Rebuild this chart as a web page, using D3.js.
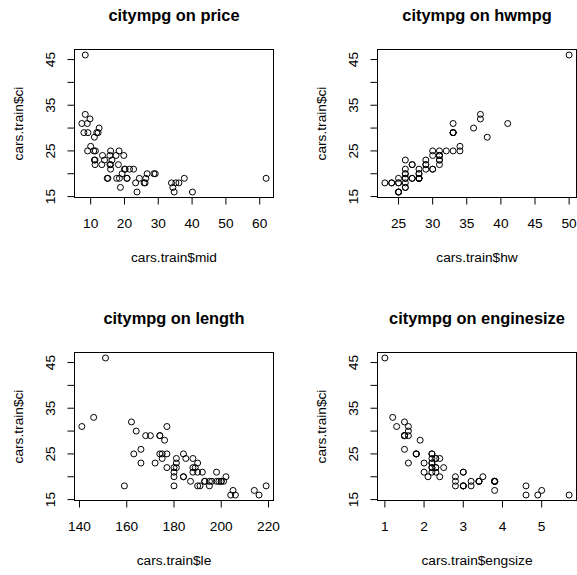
<!DOCTYPE html>
<html>
<head>
<meta charset="utf-8">
<script src="https://cdn.jsdelivr.net/npm/d3@7"></script>
<style>
  body { margin: 0; background: #fff; }
  text { font-family: "Liberation Sans", Arial, sans-serif; fill: #000; }
</style>
</head>
<body>
<div id="container"></div>
<script>
/* DATA (one entry per car in cars.train) */
const mid = [15.9, 33.9, 29.1, 37.7, 15.7, 20.8, 23.7, 26.3, 34.7, 40.1, 11.4, 15.1, 15.9, 18.8, 9.2, 11.3, 13.3, 25.8, 12.2, 19.3,
  7.4, 11.3, 15.9, 20.2, 8.4, 12.5, 19.8, 17.5, 8.0, 10.0, 35.2, 34.3, 36.1, 61.9, 14.1, 14.9, 26.1, 11.8, 15.7, 21.5,
  13.5, 16.3, 20.7, 9.0, 11.1, 17.7, 18.5, 24.4, 28.7, 11.1, 8.4, 10.9, 9.8, 18.4, 18.2, 9.1, 20.0, 23.3, 22.7, 26.7];
const ci = [25, 18, 20, 19, 22, 19, 16, 19, 16, 16, 25, 19, 21, 17, 29, 23, 22, 18, 29, 20,
  31, 22, 22, 21, 46, 30, 24, 24, 29, 26, 18, 17, 18, 19, 23, 19, 18, 29, 24, 21,
  24, 23, 19, 31, 23, 19, 19, 19, 20, 28, 33, 25, 32, 25, 22, 25, 21, 18, 21, 20];
const hw = [31, 25, 26, 26, 31, 28, 25, 27, 25, 25, 34, 28, 29, 26, 33, 29, 27, 24, 33, 28,
  33, 27, 29, 30, 50, 36, 31, 31, 33, 34, 23, 26, 26, 25, 26, 26, 24, 33, 30, 26,
  31, 31, 28, 41, 31, 28, 27, 28, 26, 38, 37, 30, 37, 32, 29, 33, 30, 25, 28, 28];
const le = [177, 195, 180, 193, 189, 200, 216, 198, 206, 204, 184, 193, 198, 214, 174, 172, 181, 180, 174, 202,
  141, 177, 180, 192, 151, 164, 175, 185, 168, 166, 191, 205, 219, 187, 166, 199, 190, 170, 181, 188,
  188, 190, 201, 177, 181, 196, 195, 200, 184, 176, 146, 175, 162, 174, 188, 163, 180, 159, 190, 184];
const engsize = [1.8, 3.2, 2.8, 2.8, 2.2, 3.8, 5.7, 3.8, 4.9, 4.6, 2.2, 3.4, 2.2, 5.0, 1.5, 2.2, 2.5, 3.0, 1.5, 3.5,
  1.3, 2.3, 2.3, 3.0, 1.0, 1.6, 2.3, 2.2, 1.5, 1.5, 3.0, 3.8, 4.6, 3.2, 1.6, 3.8, 3.0, 1.6, 2.4, 3.0,
  2.3, 2.2, 3.8, 1.6, 2.0, 3.4, 3.4, 3.8, 2.1, 1.9, 1.2, 1.8, 1.5, 2.2, 2.2, 1.8, 2.0, 2.8, 2.3, 2.4];

/* TICKS */
const yTicks = [15, 20, 25, 30, 35, 40, 45];
const yTickLabels = [15, 25, 35, 45];
const midTicks = [10, 20, 30, 40, 50, 60];
const hwTicks = [25, 30, 35, 40, 45, 50];
const leTicks = [140, 160, 180, 200, 220];
const engTicks = [1, 2, 3, 4, 5];

const panels = [
  { x: mid, ticks: midTicks, title: "citympg on price", xlab: "cars.train$mid", col: 0, row: 0 },
  { x: hw, ticks: hwTicks, title: "citympg on hwmpg", xlab: "cars.train$hw", col: 1, row: 0 },
  { x: le, ticks: leTicks, title: "citympg on length", xlab: "cars.train$le", col: 0, row: 1 },
  { x: engsize, ticks: engTicks, title: "citympg on enginesize", xlab: "cars.train$engsize", col: 1, row: 1 }
];

/* LAYOUT */
const width = 577, height = 575;
const boxW = 199, boxH = 148;
const colX = [74.5, 377.5], rowY = [49.5, 352.5];
const tickLen = 7;
const fontSize = 13.7;

// R style axis range: data range extended by 4% each side
const rRange = arr => {
  const [lo, hi] = d3.extent(arr);
  const pad = (hi - lo) * 0.04;
  return [lo - pad, hi + pad];
};

const svg = d3.select("#container")
  .append("svg")
  .attr("width", width)
  .attr("height", height);

panels.forEach(p => {
  const left = colX[p.col], top = rowY[p.row];
  const g = svg.append("g").attr("transform", `translate(${left},${top})`);

  const xScale = d3.scaleLinear().domain(rRange(p.x)).range([0, boxW]);
  const yScale = d3.scaleLinear().domain(rRange(ci)).range([boxH, 0]);

  // box
  g.append("rect")
    .attr("x", 0).attr("y", 0)
    .attr("width", boxW).attr("height", boxH)
    .attr("fill", "none").attr("stroke", "#000").attr("stroke-width", 1);

  // x axis
  g.selectAll(".xtick")
    .data(p.ticks)
    .join("line")
    .attr("class", "xtick")
    .attr("x1", d => xScale(d)).attr("x2", d => xScale(d))
    .attr("y1", boxH).attr("y2", boxH + tickLen)
    .attr("stroke", "#000");

  g.selectAll(".xlab")
    .data(p.ticks)
    .join("text")
    .attr("class", "xlab")
    .attr("x", d => xScale(d))
    .attr("y", boxH + 30.5)
    .attr("text-anchor", "middle")
    .attr("font-size", fontSize)
    .text(d => d);

  // y axis
  g.selectAll(".ytick")
    .data(yTicks)
    .join("line")
    .attr("class", "ytick")
    .attr("x1", 0).attr("x2", -tickLen)
    .attr("y1", d => yScale(d)).attr("y2", d => yScale(d))
    .attr("stroke", "#000");

  g.selectAll(".ylab")
    .data(yTickLabels)
    .join("text")
    .attr("class", "ylab")
    .attr("transform", d => `translate(${-19.5},${yScale(d)}) rotate(-90)`)
    .attr("text-anchor", "middle")
    .attr("font-size", fontSize)
    .text(d => d);

  // points
  g.selectAll("circle")
    .data(p.x.map((v, i) => [v, ci[i]]))
    .join("circle")
    .attr("cx", d => xScale(d[0]))
    .attr("cy", d => yScale(d[1]))
    .attr("r", 3)
    .attr("fill", "none")
    .attr("stroke", "#000")
    .attr("stroke-width", 1);

  // titles
  g.append("text")
    .attr("x", boxW / 2).attr("y", -28.5)
    .attr("text-anchor", "middle")
    .attr("font-size", 16.4)
    .attr("font-weight", "bold")
    .text(p.title);

  g.append("text")
    .attr("x", boxW / 2).attr("y", boxH + 64)
    .attr("text-anchor", "middle")
    .attr("font-size", fontSize)
    .text(p.xlab);

  g.append("text")
    .attr("transform", `translate(${-51.5},${boxH / 2}) rotate(-90)`)
    .attr("text-anchor", "middle")
    .attr("font-size", fontSize)
    .text("cars.train$ci");
});
</script>
</body>
</html>
